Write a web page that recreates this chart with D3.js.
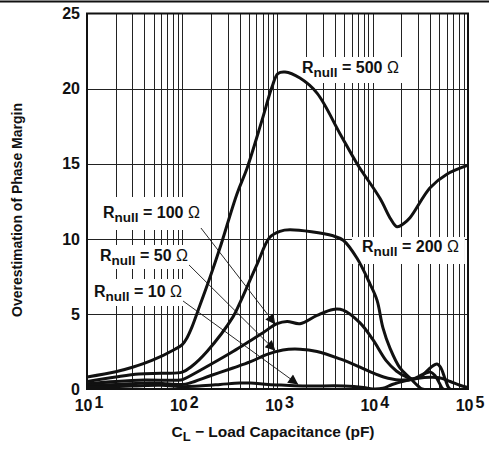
<!DOCTYPE html>
<html><head><meta charset="utf-8">
<script src="https://cdn.jsdelivr.net/npm/d3@7"></script>
<style>
body{margin:0;background:#fff}
svg{display:block}
text{font-family:"Liberation Sans",Arial,sans-serif;font-weight:bold;fill:#111}
</style>
</head><body>
<svg id="c" width="489" height="449"></svg>
<script>
// ---- data ----
const xTickExponents = [1, 2, 3, 4, 5];
const yTickValues = [0, 5, 10, 15, 20, 25];
const yAxisTitle = "Overestimation of Phase Margin";
const xAxisTitle = ["C", "L", " \u2212 Load Capacitance (pF)"];

const rnull500 = [[10,0.8],[20,1.15],[30,1.45],[48,1.9],[84,2.65],[100,2.95],[112,3.4],[126,4.1],[146,5.2],[195,7.4],[249,9.4],[376,13.0],[479,14.7],[688,17.9],[875,20.1],[1010,21.0],[1200,21.1],[1720,20.7],[2600,19.7],[4530,17.0],[6840,15.0],[11900,12.7],[15500,11.3],[18000,10.8],[21000,11.0],[24600,11.4],[40000,13.4],[60000,14.3],[100000,14.9]];
const rnull200 = [[10,0.5],[20,0.8],[35,1.0],[60,1.05],[100,1.12],[125,1.5],[182,2.5],[341,4.8],[404,5.75],[610,8.3],[830,10.1],[1060,10.5],[1350,10.6],[3830,10.2],[4900,9.9],[6840,8.7],[9350,7.0],[11100,5.9],[12800,4.07],[15200,2.7],[19300,1.4],[24600,0.73],[29900,0.2],[32900,0],[100000,0]];
const rnull100 = [[10,0.35],[20,0.5],[40,0.6],[100,0.62],[115,0.8],[200,1.65],[341,2.5],[514,3.2],[705,3.75],[990,4.35],[1260,4.5],[1720,4.35],[2600,4.9],[3830,5.3],[4880,5.25],[7350,4.4],[10000,3.3],[13900,1.87],[17700,1.2],[22600,0.8],[26400,0.67],[33000,0.9],[40000,1.4],[47300,1.67],[52000,1.4],[58000,0.6],[64700,0],[100000,0]];
const rnull50 = [[10,0.25],[20,0.3],[45,0.4],[70,0.35],[100,0.3],[120,0.4],[200,0.9],[341,1.4],[514,1.8],[777,2.3],[1140,2.6],[1720,2.65],[2600,2.5],[4530,2.0],[7350,1.45],[9350,1.15],[13000,0.8],[19000,0.6],[26400,0.67],[33000,0.95],[40000,1.13],[45000,0.9],[50000,0.4],[55000,0],[100000,0]];
const rnull10 = [[10,0.1],[30,0.2],[60,0.25],[100,0.15],[150,0.2],[250,0.3],[400,0.4],[520,0.4],[800,0.3],[1200,0.25],[2000,0.2],[5000,0.2],[8000,0.1],[10000,0],[12800,0.05],[16000,0.3],[22000,0.55],[30000,0.72],[40000,0.78],[50000,0.75],[65000,0.5],[82000,0.25],[100000,0.1]];

const seriesLabels = ["500", "200", "100", "50", "10"];
// arrow tips (data coords) for the annotated series
const arrowTips = {"100": [950, 4.3], "50": [950, 2.55], "10": [1650, 0.3]};

// ---- layout ----
const svg = d3.select("#c");
const L = 87, R = 468, T = 13.5, B = 389;
const x = d3.scaleLog().domain([10, 1e5]).range([L, R]);
const y = d3.scaleLinear().domain([0, 25]).range([B, T]);

// top rule
svg.append("line").attr("x1",0).attr("x2",489).attr("y1",1.5).attr("y2",1.5)
  .attr("stroke","#111").attr("stroke-width",2);

// grid
const gridX = [];
for (let k = 10; k < 1e5; k *= 10) for (let m = 1; m <= 9; m++) { const v = m*k; if (v > 10 && v < 1e5) gridX.push(v); }
const g = svg.append("g");
g.selectAll(".vx").data(gridX).join("line")
  .attr("x1", d => Math.round(x(d)) + 0.5).attr("x2", d => Math.round(x(d)) + 0.5)
  .attr("y1", T).attr("y2", B).attr("stroke", "#222").attr("stroke-width", 1);
g.selectAll(".hy").data(yTickValues.filter(v => v > 0 && v < 25)).join("line")
  .attr("x1", L).attr("x2", R).attr("y1", d => Math.round(y(d)) + 0.5).attr("y2", d => Math.round(y(d)) + 0.5)
  .attr("stroke", "#222").attr("stroke-width", 1);

// labels (with white boxes)
const labelPos = {"500": [302, 73], "200": [362, 252], "100": [103, 218], "50": [100, 261], "10": [94, 297]};
const labelPad = {"500": [4,5,4,6], "200": [10,4,6,8], "100": [3,10,3,8], "50": [3,5,3,4], "10": [3,7,3,5]}; // left, top, right, bottom
const boxLayer = svg.append("g");
const leaderLayer = svg.append("g");
const curveLayer = svg.append("g");
const textLayer = svg.append("g");

svg.append("defs").append("marker").attr("id","ah")
  .attr("viewBox","0 0 10 10").attr("refX",10).attr("refY",5)
  .attr("markerWidth",12).attr("markerHeight",10).attr("markerUnits","userSpaceOnUse")
  .attr("orient","auto")
  .append("path").attr("d","M0,0 L10,5 L0,10 Z").attr("fill","#111");

seriesLabels.forEach(name => {
  const [lx, ly] = labelPos[name];
  const t = textLayer.append("text").attr("x", lx).attr("y", ly).style("font-size","16px");
  t.append("tspan").text("R");
  t.append("tspan").attr("dy", 4).style("font-size","13.5px").text("null");
  t.append("tspan").attr("dy", -4).text(" = " + name + " ");
  t.append("tspan").style("font-weight","normal").text("\u03A9");
  const bb = t.node().getBBox();
  const p = labelPad[name];
  boxLayer.append("rect").attr("x", bb.x - p[0]).attr("y", ly - 11 - p[1])
    .attr("width", bb.width + p[0] + p[2]).attr("height", 11 + p[1] + 4 + p[3])
    .attr("fill", "#fff");
  if (arrowTips[name]) {
    const tip = arrowTips[name];
    const sx = bb.x + bb.width + 1;
    const sy = name === "100" ? ly + 10 : ly + 4;
    leaderLayer.append("line").attr("x1", sx).attr("y1", sy)
      .attr("x2", x(tip[0])).attr("y2", y(tip[1]))
      .attr("stroke", "#111").attr("stroke-width", 0.9).attr("marker-end", "url(#ah)");
  }
});

// clip
svg.append("clipPath").attr("id","clip").append("rect")
  .attr("x", L).attr("y", T).attr("width", R - L).attr("height", B - T);

const line = d3.line().x(d => x(d[0])).y(d => y(d[1])).curve(d3.curveCatmullRom.alpha(0.5));
[rnull500, rnull200, rnull100, rnull50, rnull10].forEach(s => {
  curveLayer.append("path").datum(s).attr("d", line).attr("clip-path","url(#clip)")
    .attr("fill","none").attr("stroke","#111").attr("stroke-width",3)
    .attr("stroke-linejoin","round").attr("stroke-linecap","round");
});

// frame
svg.append("rect").attr("x", L).attr("y", T).attr("width", R - L).attr("height", B - T)
  .attr("fill","none").attr("stroke","#111").attr("stroke-width",2);

// y ticks
svg.append("g").selectAll("text").data(yTickValues).join("text")
  .attr("x", 80).attr("y", d => y(d)).attr("dy","0.36em").attr("text-anchor","end")
  .style("font-size","16px").text(d => d);

// x ticks
xTickExponents.forEach(e => {
  const t = svg.append("text").attr("x", x(Math.pow(10, e)) + 2).attr("y", 411)
    .attr("text-anchor","middle").style("font-size","16px");
  t.append("tspan").text("10");
  t.append("tspan").attr("dx", 2).attr("dy", -3).text(e);
});

// axis titles
const xt = svg.append("text").attr("x", 273).attr("y", 437).attr("text-anchor","middle").style("font-size","15.5px");
xt.append("tspan").text(xAxisTitle[0]);
xt.append("tspan").attr("dy", 4).style("font-size","13px").text(xAxisTitle[1]);
xt.append("tspan").attr("dy", -4).text(xAxisTitle[2]);

svg.append("text").attr("transform","translate(22,210) rotate(-90)")
  .attr("text-anchor","middle").style("font-size","14px").text(yAxisTitle);
</script>
</body></html>
